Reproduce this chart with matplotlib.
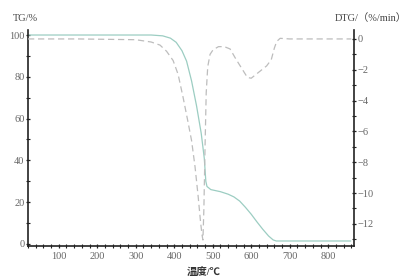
import matplotlib
matplotlib.use("Agg")
import matplotlib.pyplot as plt
from matplotlib.ticker import MultipleLocator

# TG data (temperature °C, mass %)
tg_temp = [20, 150, 300, 340, 370, 390, 405, 420, 432, 445, 458, 470, 478, 482, 485, 495, 520, 540, 555, 570, 585, 600, 615, 630, 645, 657, 665, 700, 800, 858]
tg_mass = [100, 100, 100, 100, 99.6, 98.5, 96.5, 92.5, 87.5, 78, 66, 53, 41, 30, 27.5, 26, 25, 23.8, 22.5, 20.5, 17.5, 14.2, 10.5, 7, 3.8, 1.9, 1.4, 1.4, 1.4, 1.4]

# DTG data (temperature °C, %/min)
dtg_temp = [20, 150, 300, 340, 363, 380, 397, 410, 423, 435, 445, 454, 462, 468, 472, 474.5, 477, 480, 483, 487, 493, 501, 515, 530, 545, 560, 575, 590, 600, 610, 625, 640, 652, 660, 666, 675, 700, 800, 860]
dtg_rate = [0, 0, -0.05, -0.2, -0.4, -0.8, -1.4, -2.3, -3.8, -5.3, -6.6, -8.3, -10.2, -11.8, -12.7, -13.05, -11, -7, -3.5, -1.8, -1.0, -0.7, -0.5, -0.5, -0.65, -1.3, -1.9, -2.5, -2.55, -2.35, -2.05, -1.75, -1.35, -0.6, -0.17, 0.04, 0.0, 0.0, 0.0]

x_ticks = [100, 200, 300, 400, 500, 600, 700, 800]
tg_ticks = [0, 20, 40, 60, 80, 100]
dtg_ticks = [0, -2, -4, -6, -8, -10, -12]

serif = ["Liberation Serif", "DejaVu Serif"]
cjk = ["Liberation Serif", "Noto Sans CJK SC", "DejaVu Sans"]
plt.rcParams["font.family"] = serif

fig = plt.figure(figsize=(4.07, 2.78), dpi=100)
ax = fig.add_axes([28/407, 32/278, (354-28)/407, (246-30)/278])
ax2 = ax.twinx()

tick_color = "#666666"
ax.plot(tg_temp, tg_mass, color="#9ccdc2", lw=0.9)
ax2.plot(dtg_temp, dtg_rate, color="#bdbdbd", lw=0.9, ls=(0, (5, 3)))

ax.set_xlim(20, 867)
ax.set_ylim(-1, 102.4)
ax2.set_ylim(-13.44, 0.58)

ax.set_xticks(x_ticks)
ax.set_yticks(tg_ticks)
ax2.set_yticks(dtg_ticks)
ax.xaxis.set_minor_locator(MultipleLocator(20))
ax.yaxis.set_minor_locator(MultipleLocator(10))
ax2.yaxis.set_minor_locator(MultipleLocator(1))

for a in (ax, ax2):
    a.spines["top"].set_visible(False)
    for s in a.spines.values():
        s.set_linewidth(1.2)
        s.set_color("#222222")
    a.tick_params(which="both", direction="in", colors="#222222", labelcolor=tick_color, labelsize=7.5, pad=1)
    a.tick_params(which="major", length=3, width=0.9)
    a.tick_params(which="minor", length=2, width=0.8)
ax.tick_params(axis="x", which="both", direction="inout", length=3)
ax.tick_params(axis="x", pad=3)
ax.tick_params(axis="y", which="both", direction="inout", length=3)
ax2.tick_params(axis="y", which="both", direction="inout", length=3)
ax.spines["right"].set_visible(False)
ax2.spines["left"].set_visible(False)
ax2.spines["bottom"].set_visible(False)

fig.text(0.062, 0.935, "TG/%", fontsize=7.5, color="#444444", ha="center", va="center")
fig.text(0.91, 0.935, "DTG/（%/min）", fontsize=7.5, color="#444444", ha="center", va="center", family=cjk)
fig.text(0.5, 0.02, "温度/℃", fontsize=7.5, color="#333333", ha="center", va="center", family=cjk, weight="bold")

fig.savefig("out.png", dpi=100)
